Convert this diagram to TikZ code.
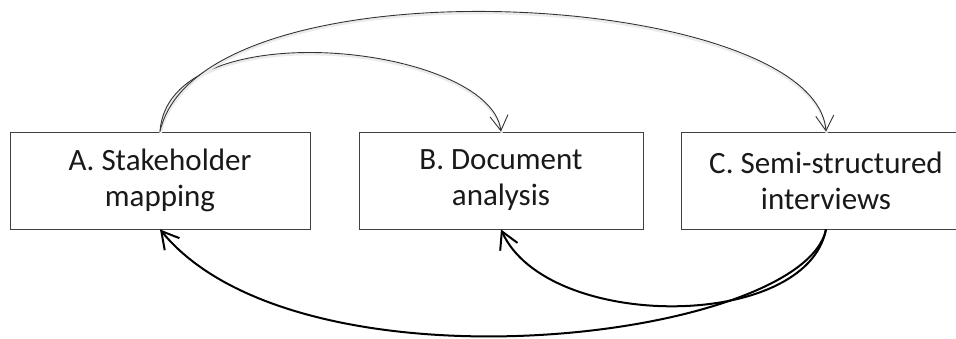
\documentclass[tikz,border=0pt]{standalone}
\usepackage{fontspec}
\setmainfont{Carlito}
\usetikzlibrary{arrows.meta}
\begin{document}
\begin{tikzpicture}[x=1pt,y=-1pt,
  stepbox/.style={draw=black!75, line width=0.9pt, minimum width=#1, minimum height=97pt,
    inner sep=0pt, align=center, text=black!90, font=\fontsize{31}{36}\selectfont},
  thinarrow/.style={draw=black!80, line width=0.9pt, -{Straight Barb[length=15pt,width=18pt]},
    preaction={draw=black!8, line width=2.2pt, -, transform canvas={xshift=0.6pt,yshift=-1.6pt}}},
  thickarrow/.style={draw=black, line width=2pt, -{Straight Barb[length=17pt,width=19pt]}}]
\useasboundingbox (0,0) rectangle (956,339);
\clip (0,0) rectangle (956,339);
\fill[white] (0,0) rectangle (956,339);
\node[stepbox=300pt] (A) at (160,180.5) {A. Stakeholder\\mapping};
\node[stepbox=284pt] (B) at (501,180.5) {B. Document\\analysis};
\node[stepbox=290pt] (C) at (826,180.5) {C. Semi-structured\\interviews};
\draw[thinarrow] (A.north) .. controls +(8,-122) and +(-11,-87) .. (B.north);
\draw[thinarrow] (A.north) .. controls +(40,-177) and +(-11,-142) .. (C.north);
\draw[thickarrow] (C.south) .. controls +(-20,102) and +(46,102) .. (B.south);
\draw[thickarrow] (C.south) .. controls +(-23,110) and +(140,171) .. (A.south);
\end{tikzpicture}
\end{document}
